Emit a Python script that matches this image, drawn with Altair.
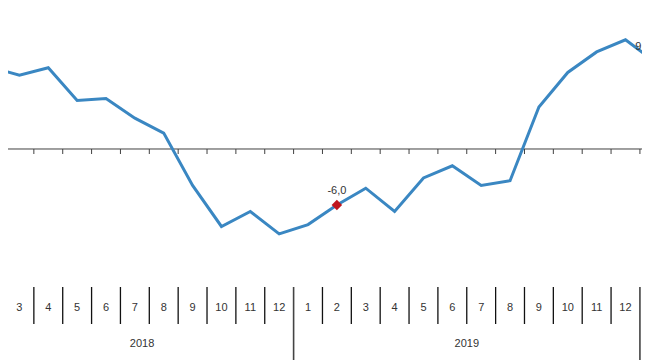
import altair as alt
import pandas as pd

# ---- data ----
month_labels = ["2", "3", "4", "5", "6", "7", "8", "9", "10", "11", "12",
                "1", "2", "3", "4", "5", "6", "7", "8", "9", "10", "11", "12",
                "1"]
year_of_month = [2018] * 11 + [2019] * 12 + [2020]
values = [8.8, 7.9, 8.7, 5.2, 5.4, 3.3, 1.7, -3.9, -8.3, -6.7, -9.1,
          -8.1, -6.0, -4.2, -6.7, -3.1, -1.8, -3.9, -3.4, 4.5, 8.2, 10.4, 11.7,
          9.4]
highlight_points = [12]             # red diamond marker with its label
edge_label_point = 23               # last value, its label sits at the right edge
year_labels = ["2018", "2019"]
year_label_pos = [6.25, 17.5]

idx = list(range(1, len(values) + 1))
df = pd.DataFrame({"i": idx, "value": values, "month": month_labels,
                   "year": year_of_month})
df["label"] = [f"{v:.1f}".replace(".", ",") for v in values]

bounds = pd.DataFrame({"b": [k + 0.5 for k in range(0, len(values) + 1)]})
year_bounds = pd.DataFrame({"b": [i + 0.5 for i, m in zip(idx, month_labels) if m == "12"]})
short_bounds = bounds[~bounds["b"].isin(year_bounds["b"])].reset_index(drop=True)
hi_df = df.iloc[highlight_points].reset_index(drop=True)
edge_df = df.iloc[[edge_label_point]].reset_index(drop=True)
yl_df = pd.DataFrame({"x": year_label_pos, "t": year_labels})
zero_df = pd.DataFrame({"z": [0.0]})

W, H = 634, 352
ZERO_Y = 141
xs = alt.Scale(domain=[1.604, 23.572], nice=False, zero=False)
ys = alt.Scale(domain=[-22.607, 15.107], nice=False, zero=False)

FONT = "Liberation Sans"
TXT = "#333333"
LINE = "#3a87c2"
RED = "#c0151d"

zero_line = alt.Chart(zero_df).mark_rule(color="#404040", strokeWidth=1).encode(
    y=alt.Y("z:Q", scale=ys, axis=None))

zero_ticks = alt.Chart(bounds).mark_rule(color="#404040", strokeWidth=1, clip=True).encode(
    x=alt.X("b:Q", scale=xs, axis=None),
    y=alt.value(ZERO_Y), y2=alt.value(ZERO_Y + 5))

line = alt.Chart(df).mark_line(color=LINE, strokeWidth=3, clip=True).encode(
    x=alt.X("i:Q", scale=xs, axis=None),
    y=alt.Y("value:Q", scale=ys, axis=None))

marker = alt.Chart(hi_df).mark_point(shape="diamond", filled=True, color=RED,
                                     size=110, opacity=1).encode(
    x=alt.X("i:Q", scale=xs, axis=None),
    y=alt.Y("value:Q", scale=ys, axis=None))

value_text = alt.Chart(hi_df).mark_text(font=FONT, fontSize=11, color=TXT,
                                        dy=-14, baseline="middle").encode(
    x=alt.X("i:Q", scale=xs, axis=None),
    y=alt.Y("value:Q", scale=ys, axis=None),
    text="label:N")

edge_text = alt.Chart(edge_df).mark_text(font=FONT, fontSize=11, color=TXT,
                                         align="left", dx=-19, dy=-14,
                                         baseline="middle").encode(
    x=alt.X("i:Q", scale=xs, axis=None),
    y=alt.Y("value:Q", scale=ys, axis=None),
    text="label:N")

month_seps = alt.Chart(short_bounds).mark_rule(color="#111111", strokeWidth=1.3, clip=True).encode(
    x=alt.X("b:Q", scale=xs, axis=None),
    y=alt.value(279), y2=alt.value(316))

year_seps = alt.Chart(year_bounds).mark_rule(color="#444444", strokeWidth=1.6, clip=True).encode(
    x=alt.X("b:Q", scale=xs, axis=None),
    y=alt.value(279), y2=alt.value(H))

month_text = alt.Chart(df).mark_text(font=FONT, fontSize=11, color=TXT,
                                     baseline="middle", clip=True).encode(
    x=alt.X("i:Q", scale=xs, axis=None),
    y=alt.value(299.5),
    text="month:N")

year_text = alt.Chart(yl_df).mark_text(font=FONT, fontSize=11, color=TXT,
                                       baseline="middle").encode(
    x=alt.X("x:Q", scale=xs, axis=None),
    y=alt.value(335.5),
    text="t:N")

chart = alt.layer(zero_line, zero_ticks, line, marker, value_text, edge_text,
                  month_seps, year_seps, month_text, year_text).properties(
    width=W, height=H,
    autosize=alt.AutoSizeParams(type="none"),
    padding=0,
).configure_view(strokeWidth=0)

chart.save("out.html", embed_options={"renderer": "svg", "actions": False})
